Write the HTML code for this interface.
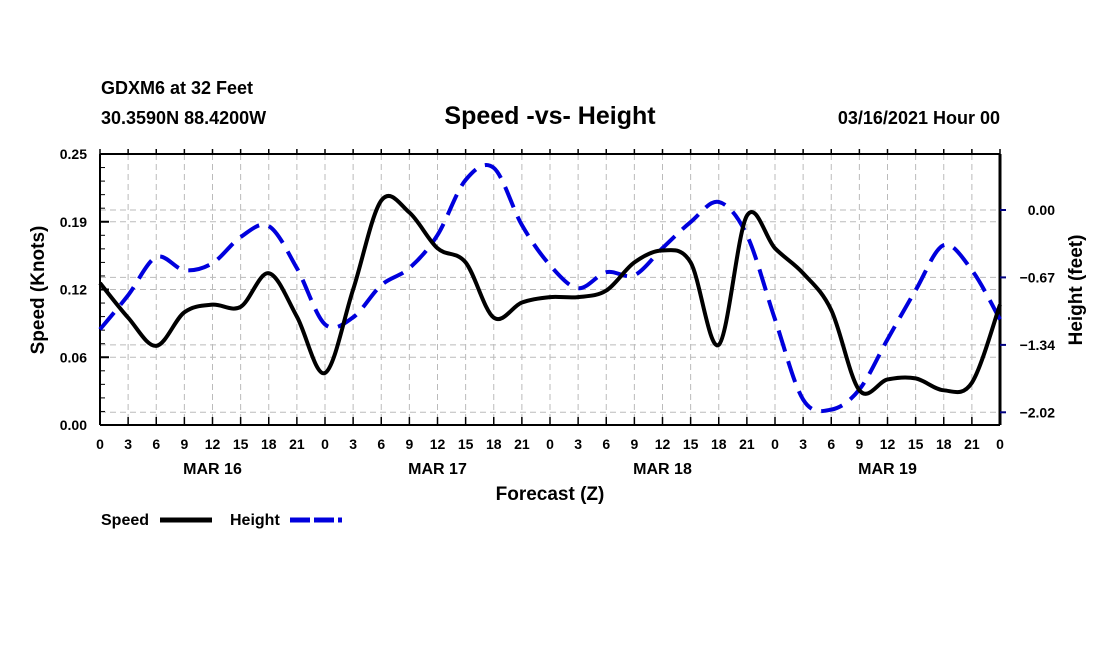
<!DOCTYPE html>
<html><head><meta charset="utf-8"><style>
body{margin:0;background:#fff;}
svg text{font-family:"Liberation Sans",Arial,sans-serif;font-weight:bold;}
</style></head><body>
<svg id="chart" width="1100" height="650" xmlns="http://www.w3.org/2000/svg">
<text x="101" y="94" font-size="18">GDXM6 at 32 Feet</text>
<text x="101" y="124" font-size="18">30.3590N 88.4200W</text>
<text x="550" y="124" font-size="25" text-anchor="middle">Speed -vs- Height</text>
<text x="1000" y="124" font-size="18" text-anchor="end">03/16/2021 Hour 00</text>
<g id="grid"></g>
<g id="axes"></g>
<g id="series"></g>
<text transform="translate(44,290) rotate(-90)" font-size="19" text-anchor="middle">Speed (Knots)</text>
<text transform="translate(1082,290) rotate(-90)" font-size="19" text-anchor="middle">Height (feet)</text>
<text x="550" y="500" font-size="19" text-anchor="middle">Forecast (Z)</text>
<text x="101" y="525" font-size="16">Speed</text>
<line x1="160" y1="520" x2="212" y2="520" stroke="#000" stroke-width="5"/>
<text x="230" y="525" font-size="16">Height</text>
<line x1="290" y1="520" x2="342" y2="520" stroke="#0000dd" stroke-width="5" stroke-dasharray="20 4"/>
</svg>
<script>
const hours = [];
for (let i = 0; i <= 32; i++) hours.push(i * 3);
const speedKnots = [0.131,0.099,0.073,0.104,0.111,0.109,0.140,0.100,0.048,0.125,0.207,0.196,0.163,0.150,0.099,0.113,0.118,0.118,0.124,0.150,0.161,0.150,0.074,0.193,0.163,0.140,0.106,0.032,0.042,0.043,0.032,0.039,0.111];
const heightFeet = [-1.19,-0.85,-0.47,-0.60,-0.53,-0.27,-0.16,-0.58,-1.14,-1.07,-0.75,-0.58,-0.25,0.30,0.42,-0.15,-0.55,-0.78,-0.62,-0.65,-0.38,-0.12,0.08,-0.25,-1.09,-1.89,-1.99,-1.79,-1.29,-0.80,-0.35,-0.60,-1.09];
const leftTicks = ["0.00","0.06","0.12","0.19","0.25"];
const leftTickVals = [0,0.0625,0.125,0.1875,0.25];
const rightTicks = ["0.00","\u22120.67","\u22121.34","\u22122.02"];
const rightTickVals = [0,-0.672,-1.345,-2.017];
const xTickLabels = ["0","3","6","9","12","15","18","21"];
const dayLabels = ["MAR 16","MAR 17","MAR 18","MAR 19"];

const L=100,R=1000,T=154,B=425;
const xS = h => L + (R-L)*h/96;
const yL = v => B - (B-T)*v/0.25;
const yR = f => 210 - f*100.3;
const NS="http://www.w3.org/2000/svg";
function mk(tag, attrs, parent){const e=document.createElementNS(NS,tag);for(const k in attrs)e.setAttribute(k,attrs[k]);parent.appendChild(e);return e;}
const grid=document.getElementById('grid'), axes=document.getElementById('axes'), ser=document.getElementById('series');
hours.forEach((h,i)=>{ if(i>0&&i<32){
 const g=mk('line',{x1:xS(h),x2:xS(h),y1:T,y2:B,stroke:'#bbb','stroke-width':1,'stroke-dasharray':'6 4'},grid);
 
 }});
leftTickVals.slice(1,4).forEach(v=>{
 const g=mk('line',{x1:L,x2:R,y1:yL(v),y2:yL(v),stroke:'#bbb','stroke-width':1,'stroke-dasharray':'6 4'},grid);
 
 });
rightTickVals.forEach(v=>{
 const g=mk('line',{x1:L,x2:R,y1:yR(v),y2:yR(v),stroke:'#bbb','stroke-width':1,'stroke-dasharray':'6 4'},grid);
 
 });
mk('line',{x1:L,x2:R,y1:T,y2:T,stroke:'#000','stroke-width':2},axes);
mk('line',{x1:L,x2:R,y1:B,y2:B,stroke:'#000','stroke-width':2},axes);
mk('line',{x1:L,x2:L,y1:T,y2:B,stroke:'#000','stroke-width':2},axes);
mk('line',{x1:R,x2:R,y1:T,y2:B,stroke:'#000','stroke-width':3},axes);
for(let v=0;v<=0.2501;v+=0.0125){mk('line',{x1:L,x2:L+5,y1:yL(v),y2:yL(v),stroke:'#000','stroke-width':1},axes);}
leftTickVals.forEach((v,i)=>{
 mk('line',{x1:L,x2:L+9,y1:yL(v),y2:yL(v),stroke:'#000','stroke-width':2},axes);
 const t=mk('text',{x:L-13,y:yL(v)+5,'font-size':14,'text-anchor':'end'},axes);t.textContent=leftTicks[i];
 
 });
rightTickVals.forEach((v,i)=>{
 mk('line',{x1:R,x2:R+6,y1:yR(v),y2:yR(v),stroke:'#000080','stroke-width':2},axes);
 const t=mk('text',{x:1055,y:yR(v)+5,'font-size':14,'text-anchor':'end'},axes);t.textContent=rightTicks[i];
 
 });
hours.forEach((h,i)=>{
 const x=xS(h);
 mk('line',{x1:x,x2:x,y1:B,y2:B-8,stroke:'#000','stroke-width':1.5},axes);
 mk('line',{x1:x,x2:x,y1:T,y2:T-5,stroke:'#000','stroke-width':1.5},axes);
 const t=mk('text',{x:x,y:B+24,'font-size':14,'text-anchor':'middle'},axes);t.textContent=xTickLabels[i%8];
 
 });
dayLabels.forEach((d,i)=>{
 const t=mk('text',{x:xS(24*i+12),y:B+49,'font-size':16,'text-anchor':'middle'},axes);t.textContent=d;
 
 });
function smooth(pts){
 let d=`M${pts[0][0]},${pts[0][1]}`;
 for(let i=0;i<pts.length-1;i++){
  const p0=pts[i-1]||pts[i],p1=pts[i],p2=pts[i+1],p3=pts[i+2]||p2;
  const c1=[p1[0]+(p2[0]-p0[0])/6,p1[1]+(p2[1]-p0[1])/6];
  const c2=[p2[0]-(p3[0]-p1[0])/6,p2[1]-(p3[1]-p1[1])/6];
  d+=` C${c1[0]},${c1[1]} ${c2[0]},${c2[1]} ${p2[0]},${p2[1]}`;}
 return d;}
const hp=mk('path',{d:smooth(hours.map((h,i)=>[xS(h),yR(heightFeet[i])])),fill:'none',stroke:'#0000dd','stroke-width':4,'stroke-dasharray':'22 10'},ser);


const sp=mk('path',{d:smooth(hours.map((h,i)=>[xS(h),yL(speedKnots[i])])),fill:'none',stroke:'#000','stroke-width':4},ser);


</script>
</body></html>
